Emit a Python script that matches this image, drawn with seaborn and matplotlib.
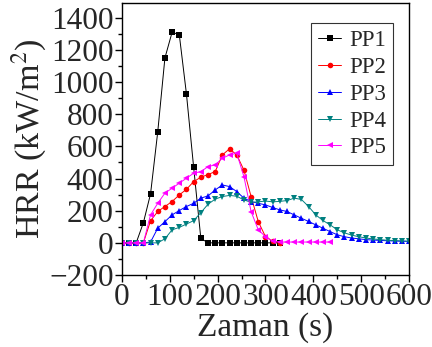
#=====================================================================================================
# Program Name     : HRRZamanGrafigi
# Description      : Plots heat release rate (HRR) curves of five samples against time.
# Output           : out.png
#=====================================================================================================

import pandas as pd
import matplotlib
matplotlib.use("Agg")
import matplotlib.pyplot as plt
from matplotlib.ticker import MultipleLocator
import seaborn as sns

#-----------------------------------------------------------------------------------------------------
# Data
#-----------------------------------------------------------------------------------------------------
zaman = [0, 15, 30, 45, 60, 75, 90, 105, 120, 135, 150, 165, 180, 195, 210, 225, 240, 255, 270,
         285, 300, 315, 330, 345, 360, 375, 390, 405, 420, 435, 450, 465, 480, 495, 510, 525,
         540, 555, 570, 585, 600]

pp1 = [0, 0, 0, 125, 305, 690, 1150, 1310, 1295, 925, 470, 28, 0, 0, 0, 0, 0, 0, 0, 0, 0, 0, 0]

pp2 = [0, 0, 0, 0, 137, 195, 226, 257, 298, 333, 381, 408, 425, 443, 547, 585, 547, 453, 288,
       132, 39, 10, 2]

pp3 = [0, 0, 0, 0, 5, 91, 132, 174, 201, 226, 246, 278, 292, 329, 360, 350, 319, 278, 257,
       246, 236, 220, 205, 195, 174, 153, 133, 112, 91, 70, 50, 38, 30, 25, 20, 17,
       15, 13, 11, 10, 9]

pp4 = [0, 0, 0, 0, 0, 0, 25, 81, 96, 117, 138, 188, 240, 272, 288, 295, 290, 267, 252,
       255, 260, 255, 258, 263, 278, 270, 226, 174, 139, 112, 81, 62, 48, 38, 30, 24,
       20, 16, 14, 12, 10]

pp5 = [0, 0, 0, 0, 174, 246, 309, 340, 371, 402, 433, 443, 474, 485, 526, 547, 557, 412, 194,
       81, 39, 10, 5, 5, 5, 5, 5, 5, 5, 5]

seriler = ["PP1", "PP2", "PP3", "PP4", "PP5"]
degerler = [pp1, pp2, pp3, pp4, pp5]
renkler = ["#000000", "#FF0000", "#0000FF", "#008080", "#FF00FF"]
isaretler = ["s", "o", "^", "v", "<"]


#-----------------------------------------------------------------------------------------------------
# Function Name    : build_frame
# Description      : Builds a long-format table from the series lists.
#-----------------------------------------------------------------------------------------------------
def build_frame():
    rows = []
    for name, vals in zip(seriler, degerler):
        for t, v in zip(zaman, vals):
            rows.append({"Zaman": t, "HRR": v, "Seri": name})
    return pd.DataFrame(rows)


#-----------------------------------------------------------------------------------------------------
# Function Name    : plot_hrr
# Description      : Draws the HRR curves and saves the figure.
#-----------------------------------------------------------------------------------------------------
def plot_hrr(df):
    sns.set_style("white")
    plt.rcParams["font.family"] = ["Liberation Serif", "DejaVu Serif"]
    plt.rcParams["mathtext.fontset"] = "stix"

    fig = plt.figure(figsize=(4.32, 3.47), dpi=100)
    ax = fig.add_axes([0.282, 0.2075, 0.665, 0.783])

    sns.lineplot(
        data=df, x="Zaman", y="HRR", hue="Seri", style="Seri",
        hue_order=seriler, style_order=seriler,
        palette=dict(zip(seriler, renkler)),
        markers=dict(zip(seriler, isaretler)),
        dashes=False, linewidth=0.7, markersize=4,
        markeredgewidth=0, ax=ax
    )

    ax.set_xlim(0, 600)
    ax.set_ylim(-200, 1490)
    ax.xaxis.set_major_locator(MultipleLocator(100))
    ax.xaxis.set_minor_locator(MultipleLocator(50))
    ax.yaxis.set_major_locator(MultipleLocator(200))
    ax.yaxis.set_minor_locator(MultipleLocator(100))
    ax.tick_params(which="both", direction="out", bottom=True, left=True,
                   top=False, right=False, color="black", width=1)
    ax.tick_params(which="major", length=5, labelsize=22.5, pad=1)
    ax.tick_params(which="minor", length=3)
    for sp in ax.spines.values():
        sp.set_color("black")
        sp.set_linewidth(1)

    ax.set_xlabel("Zaman (s)", fontsize=24, labelpad=0)
    ax.set_ylabel("HRR (kW/m$^2$)", fontsize=24.5, labelpad=1)

    leg = ax.legend(loc="upper right", bbox_to_anchor=(0.944, 0.926), fontsize=16.5,
                    frameon=True, fancybox=False, edgecolor="black",
                    handlelength=1.0, handletextpad=0.35, borderpad=0.3,
                    labelspacing=0.25, borderaxespad=0)
    leg.get_frame().set_linewidth(0.8)

    fig.savefig("out.png", dpi=100)


def main():
    df = build_frame()
    plot_hrr(df)


if __name__ == "__main__":
    main()
